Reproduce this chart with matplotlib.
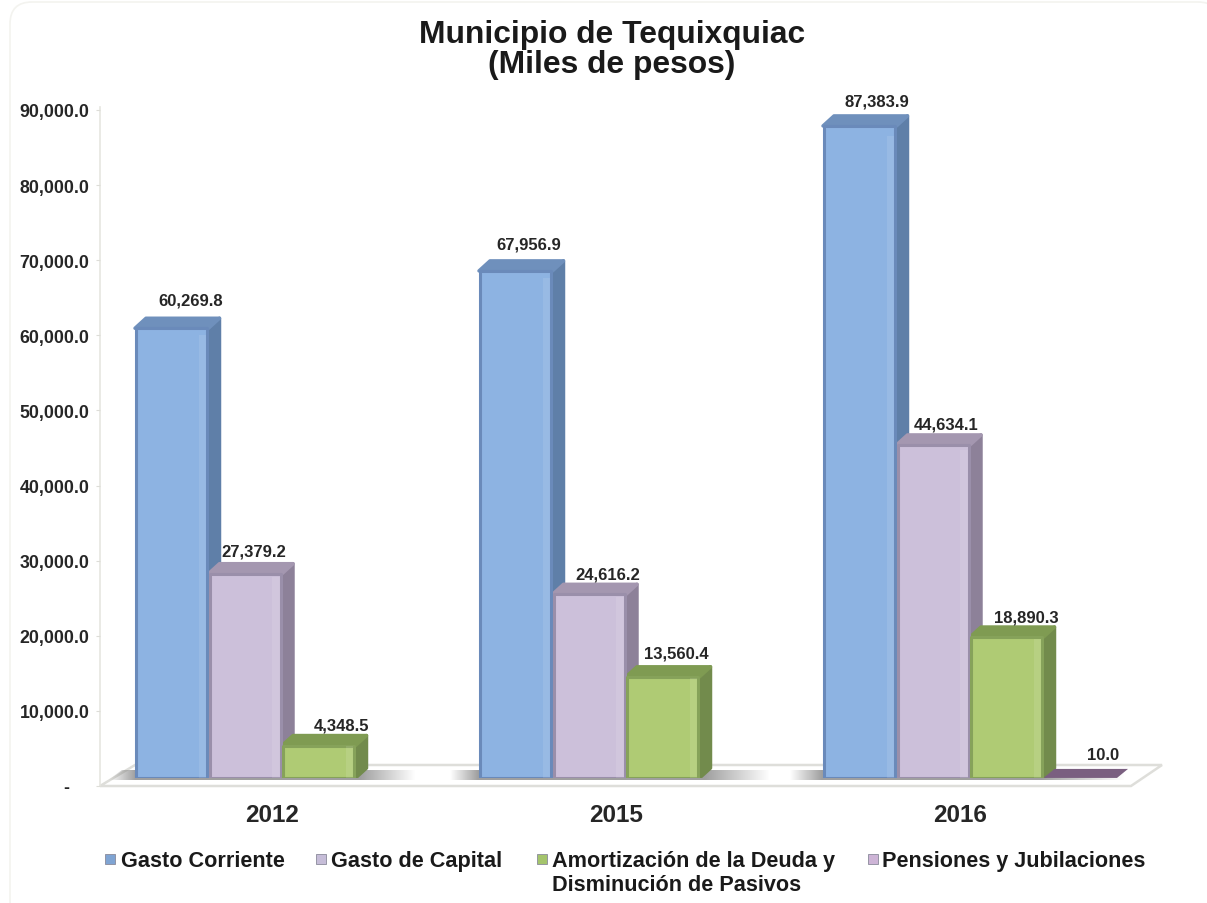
import numpy as np
import matplotlib
matplotlib.use('Agg')
import matplotlib.pyplot as plt
from matplotlib.patches import Polygon, FancyBboxPatch, Rectangle

plt.rcParams['font.family'] = ['Liberation Sans', 'DejaVu Sans']
plt.rcParams['font.weight'] = 'bold'

# ---- datos ----
title = "Municipio de Tequixquiac\n(Miles de pesos)"
years = ['2012', '2015', '2016']
y_ticks = [0, 10000, 20000, 30000, 40000, 50000, 60000, 70000, 80000, 90000]
gasto_corriente = [60269.8, 67956.9, 87383.9]
gasto_capital = [27379.2, 24616.2, 44634.1]
amortizacion = [4348.5, 13560.4, 18890.3]
pensiones = [None, None, 10.0]

series_names = ['Gasto Corriente', 'Gasto de Capital',
                'Amortización de la Deuda y\nDisminución de Pasivos',
                'Pensiones y Jubilaciones']
series_values = [gasto_corriente, gasto_capital, amortizacion, pensiones]

# frente, lado, tapa, borde
colors = [('#8DB3E2', '#5F7FA8', '#6F90BC', '#6A8ABA'),
          ('#CCC0DA', '#8D8199', '#A497B0', '#9A8FAA'),
          ('#AFCB74', '#728B4C', '#7F9B52', '#86A25A'),
          ('#C9A8CC', '#6E5478', '#7A5F80', '#7A5F80')]

W, H = 1207, 904
fig = plt.figure(figsize=(W / 100, H / 100), dpi=100)

def axes_px(left, right, top, bottom):
    return fig.add_axes([left / W, 1 - bottom / H, (right - left) / W, (bottom - top) / H])

# capa de fondo en pixeles: marco y piso
bg = fig.add_axes([0, 0, 1, 1])
bg.set_xlim(0, W)
bg.set_ylim(H, 0)
bg.axis('off')
bg.add_patch(FancyBboxPatch((10, 3), 1210, 920, boxstyle='round,pad=0,rounding_size=22',
                            fc='white', ec='#F3F3EF', lw=1.2))

floor = [(100, 787), (135, 766), (1162, 766), (1131, 787)]
bg.add_patch(Polygon(floor, closed=True, fc='white', ec='#DEDEDA', lw=1.8))

# sombra del piso
xs = np.linspace(100, 1170, 1100)
shade = np.zeros((2, 1100))
for a, b, c, d in [(108, 135, 360, 415), (450, 478, 705, 770), (790, 822, 1040, 1125)]:
    inside = np.clip((xs - a) / (b - a), 0, 1) * np.clip((d - xs) / (d - c), 0, 1)
    shade = np.maximum(shade, inside)
rgba = np.zeros((2, 1100, 4))
rgba[..., :3] = 0.5
rgba[..., 3] = shade * 0.75
im = bg.imshow(rgba, extent=(100, 1170, 781, 771), aspect='auto', zorder=2)
im.set_clip_path(Polygon([(108, 781), (122, 771), (1150, 771), (1130, 781)],
                         closed=True, transform=bg.transData))
bg.set_xlim(0, W)
bg.set_ylim(H, 0)
bg.plot([100, 100], [108, 787], color='#E6E6E0', lw=1.2)

# ejes: plano de las marcas
ax = axes_px(100, 1132, 111, 787)
ax.patch.set_visible(False)
ax.set_xlim(-0.5, 2.5)
ax.set_ylim(0, 90000)
ax.set_yticks(y_ticks)
ax.set_yticklabels(['-' + ' ' * 4 if v == 0 else f'{v:,.1f}' for v in y_ticks], fontsize=12.8, color='#262626')
ax.set_xticks(range(len(years)))
ax.set_xticklabels(years, fontsize=17.5, color='#262626')
ax.tick_params(axis='x', length=0, pad=12)
ax.tick_params(axis='y', length=3, color='#DDDDD8', pad=4.5)
for s in ax.spines.values():
    s.set_visible(False)

# ejes: plano de las barras
ax2 = axes_px(110, 1142, 107.4, 779)
ax2.patch.set_visible(False)
ax2.axis('off')
ax2.set_xlim(-0.5, 2.5)
ax2.set_ylim(0, 90000)

bar_w = 73.5 / 344
depth_x = 11 / 344
depth_y = 10 / 0.00746

label_dx = [[19, 13, 17], [8, 18, 13], [23, 14, 20], [0, 0, 23]]
label_dy = [[18, 17, 15], [13, 10, 11], [11, 14, 10], [0, 0, 13]]

for i, (vals, c) in enumerate(zip(series_values, colors)):
    front, side, top, edge = c
    for j, v in enumerate(vals):
        if v is None:
            continue
        x0 = j + (i - 2) * bar_w
        x1 = x0 + bar_w
        if v < 100:
            # barra casi nula: solo se ve la tapa sobre el piso
            ax2.add_patch(Polygon([(x0, v), (x0 + depth_x, v + depth_y * 0.9),
                                   (x1 + depth_x, v + depth_y * 0.9), (x1, v)],
                                  closed=True, fc=top, ec='none', zorder=3))
        else:
            ax2.add_patch(Polygon([(x1, 0), (x1 + depth_x, depth_y), (x1 + depth_x, v + depth_y), (x1, v)],
                                  closed=True, fc=side, ec=side, lw=2.5, joinstyle='round', zorder=3))
            ax2.add_patch(Polygon([(x0, v), (x0 + depth_x, v + depth_y), (x1 + depth_x, v + depth_y), (x1, v)],
                                  closed=True, fc=top, ec=top, lw=2.5, joinstyle='round', zorder=3))
            ax2.bar(x0 + bar_w / 2, v, width=bar_w * 0.97, color=front, edgecolor=edge,
                    linewidth=2.2, joinstyle='round', zorder=4)
            # brillo del frente
            ax2.bar(x1 - bar_w * 0.08, v * 0.985, width=bar_w * 0.1, color='white', alpha=0.10,
                    linewidth=0, zorder=5)
        ax2.annotate(f'{v:,.1f}', (x0 + bar_w / 2, v + depth_y),
                     xytext=(label_dx[i][j] * 0.72, label_dy[i][j] * 0.72), textcoords='offset points',
                     ha='center', va='center', fontsize=12, color='#262626', zorder=6)

# titulo
fig.text(612 / W, 1 - 50 / H, title, ha='center', va='center', fontsize=22.9, color='#1A1A1A',
         linespacing=1.0)

# leyenda
legend_x = [105, 316, 537, 868]
legend_text_x = [121, 331, 552, 882]
legend_sq = ['#7FA4D3', '#C6BDD8', '#A4C46C', '#CDB4D6']
for nm, sx, tx, sq in zip(series_names, legend_x, legend_text_x, legend_sq):
    bg.add_patch(Rectangle((sx, 855), 10, 10, fc=sq, ec='#8A8A9A', lw=0.6))
    bg.text(tx, 851, nm, ha='left', va='top', fontsize=15.6, color='#1A1A1A', linespacing=1.2)

fig.savefig('out.png', dpi=100)
